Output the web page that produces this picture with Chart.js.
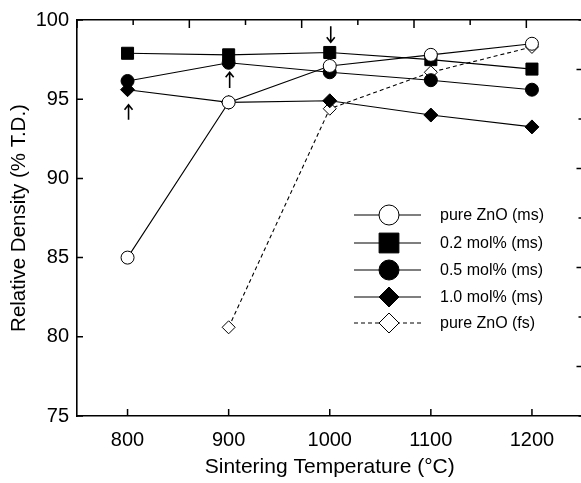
<!DOCTYPE html>
<html>
<head>
<meta charset="utf-8">
<script src="https://cdn.jsdelivr.net/npm/chart.js@4/dist/chart.umd.min.js"></script>
<style>
  html, body { margin: 0; padding: 0; background: #fff; overflow: hidden; }
  #wrap { width: 592px; height: 483px; }
</style>
</head>
<body>
<div id="wrap"><canvas id="densityChart" width="592" height="483"></canvas></div>
<script>
// sintering temperatures (°C)
const temps = [800, 900, 1000, 1100, 1200];
const tempsFs = [900, 1000, 1100, 1200];

// relative density (% T.D.)
const pureZnoMs = [85.0, 94.8, 97.1, 97.8, 98.5];
const mol02Ms = [97.9, 97.8, 97.95, 97.5, 96.9];
const mol05Ms = [96.15, 97.3, 96.7, 96.2, 95.6];
const mol10Ms = [95.6, 94.8, 94.9, 94.0, 93.25];
const pureZnoFs = [80.6, 94.4, 96.7, 98.3];

const yTicks = [75, 80, 85, 90, 95, 100];
const xTicks = [800, 900, 1000, 1100, 1200];

// arrows: temperature, tail value, head value
const arrowTemps = [800, 900, 1000];
const arrowTails = [93.7, 95.7, 99.6];
const arrowHeads = [94.65, 96.7, 98.6];

const ctx = document.getElementById('densityChart').getContext('2d');
const FONT = 'Liberation Sans, Arial, sans-serif';

function pts(xs, ys) {
    return xs.map((x, i) => ({ x: x, y: ys[i] }));
}

const datasets = [
    { label: 'pure ZnO (ms)', data: pts(temps, pureZnoMs), pointStyle: 'circle', pointRadius: 6.5,
      backgroundColor: '#fff', borderColor: '#000', legendRadius: 10, dash: [] },
    { label: '0.2 mol% (ms)', data: pts(temps, mol02Ms), pointStyle: 'rect', pointRadius: 8.5,
      backgroundColor: '#000', borderColor: '#000', legendRadius: 14, dash: [] },
    { label: '0.5 mol% (ms)', data: pts(temps, mol05Ms), pointStyle: 'circle', pointRadius: 6.5,
      backgroundColor: '#000', borderColor: '#000', legendRadius: 10, dash: [] },
    { label: '1.0 mol% (ms)', data: pts(temps, mol10Ms), pointStyle: 'rectRot', pointRadius: 7,
      backgroundColor: '#000', borderColor: '#000', legendRadius: 10, dash: [] },
    { label: 'pure ZnO (fs)', data: pts(tempsFs, pureZnoFs), pointStyle: 'rectRot', pointRadius: 6.5,
      backgroundColor: '#fff', borderColor: '#000', legendRadius: 10, dash: [4, 3] }
].map(d => Object.assign(d, {
    borderWidth: 1.1,
    pointBorderWidth: 1,
    pointBackgroundColor: d.backgroundColor,
    pointBorderColor: '#000',
    borderDash: d.dash,
    fill: false,
    tension: 0
}));

// inward tick marks on all four sides
const innerTicks = {
    id: 'innerTicks',
    afterDraw(chart) {
        const c = chart.ctx;
        const a = chart.chartArea;
        const s = chart.scales;
        c.save();
        c.strokeStyle = '#000';
        c.lineWidth = 1.5;
        c.beginPath();
        s.y.ticks.forEach(t => {
            const py = s.y.getPixelForValue(t.value);
            c.moveTo(a.left, py); c.lineTo(a.left + 6, py);
        });
        s.x.ticks.forEach(t => {
            const px = s.x.getPixelForValue(t.value);
            c.moveTo(px, a.bottom); c.lineTo(px, a.bottom - 7);
        });
        s.x2.ticks.forEach(t => {
            const px = s.x2.getPixelForValue(t.value);
            const len = Number.isInteger(t.value) ? 8 : 5;
            c.moveTo(px, a.top); c.lineTo(px, a.top + len);
        });
        s.y2.ticks.forEach(t => {
            const py = s.y2.getPixelForValue(t.value);
            const len = t.value % 2 ? 6 : 4;
            c.moveTo(a.right, py); c.lineTo(a.right - len, py);
        });
        c.stroke();
        c.restore();
    }
};

// arrows marking selected points
const arrows = {
    id: 'arrows',
    afterDatasetsDraw(chart) {
        const c = chart.ctx;
        const sx = chart.scales.x, sy = chart.scales.y;
        c.save();
        c.strokeStyle = '#000';
        c.lineWidth = 1.6;
        arrowTemps.forEach((t, i) => {
            const x = sx.getPixelForValue(t) + 1;
            const y0 = sy.getPixelForValue(arrowTails[i]);
            const y1 = sy.getPixelForValue(arrowHeads[i]);
            const dir = y1 < y0 ? 1 : -1;
            c.beginPath();
            c.moveTo(x, y0); c.lineTo(x, y1);
            c.moveTo(x - 4, y1 + dir * 5); c.lineTo(x, y1); c.lineTo(x + 4, y1 + dir * 5);
            c.stroke();
        });
        c.restore();
    }
};

// legend inside the plot area
const boxLegend = {
    id: 'boxLegend',
    afterDraw(chart) {
        const c = chart.ctx;
        const x0 = 354, x1 = 421, xm = 389, xt = 440;
        const rows = [215, 243, 270, 297, 323];
        c.save();
        c.font = '16px ' + FONT;
        c.textBaseline = 'middle';
        chart.data.datasets.forEach((d, i) => {
            const y = rows[i];
            c.strokeStyle = '#000';
            c.lineWidth = 1.1;
            c.setLineDash(d.dash);
            c.beginPath();
            c.moveTo(x0, y); c.lineTo(x1, y);
            c.stroke();
            c.setLineDash([]);
            c.fillStyle = d.backgroundColor;
            c.lineWidth = 1;
            Chart.helpers.drawPoint(c, {
                pointStyle: d.pointStyle, radius: d.legendRadius, rotation: 0, borderWidth: 1
            }, xm, y);
            c.fillStyle = '#000';
            c.fillText(d.label, xt, y + 1);
        });
        c.restore();
    }
};

const axisBorder = { display: true, color: '#000', width: 1.6 };
const noGrid = { drawOnChartArea: false, drawTicks: false };

new Chart(ctx, {
    type: 'line',
    data: { datasets: datasets },
    options: {
        responsive: false,
        animation: false,
        layout: { padding: 0 },
        plugins: { legend: { display: false }, tooltip: { enabled: false } },
        scales: {
            x: {
                type: 'linear', position: 'bottom', min: 750, max: 1250,
                afterBuildTicks: s => { s.ticks = xTicks.map(v => ({ value: v })); },
                afterFit: s => { s.height = 67; },
                grid: noGrid, border: axisBorder,
                ticks: {
                    color: '#000', font: { family: FONT, size: 20 }, padding: 12,
                    callback: v => String(v)
                },
                title: {
                    display: true, text: 'Sintering Temperature (°C)', color: '#000',
                    font: { family: FONT, size: 21 }, padding: { top: 0, bottom: 3 }
                }
            },
            x2: {
                type: 'linear', position: 'top', min: 0, max: 4.5,
                ticks: { display: false, stepSize: 0.5 },
                afterFit: s => { s.height = 16; },
                grid: noGrid, border: axisBorder
            },
            y: {
                type: 'linear', position: 'left', min: 75, max: 100,
                afterBuildTicks: s => { s.ticks = yTicks.map(v => ({ value: v })); },
                afterFit: s => { s.width = 77; },
                grid: noGrid, border: axisBorder,
                ticks: { color: '#000', font: { family: FONT, size: 20 }, padding: 8 },
                title: {
                    display: true, text: 'Relative Density (% T.D.)', color: '#000',
                    font: { family: FONT, size: 20.5 }, padding: { top: 7, bottom: 0 }
                }
            },
            y2: {
                type: 'linear', position: 'right', min: 0, max: 8,
                ticks: { display: false, stepSize: 1 },
                afterFit: s => { s.width = 9; },
                grid: noGrid, border: { display: false }
            }
        }
    },
    plugins: [innerTicks, arrows, boxLegend]
});
</script>
</body>
</html>
